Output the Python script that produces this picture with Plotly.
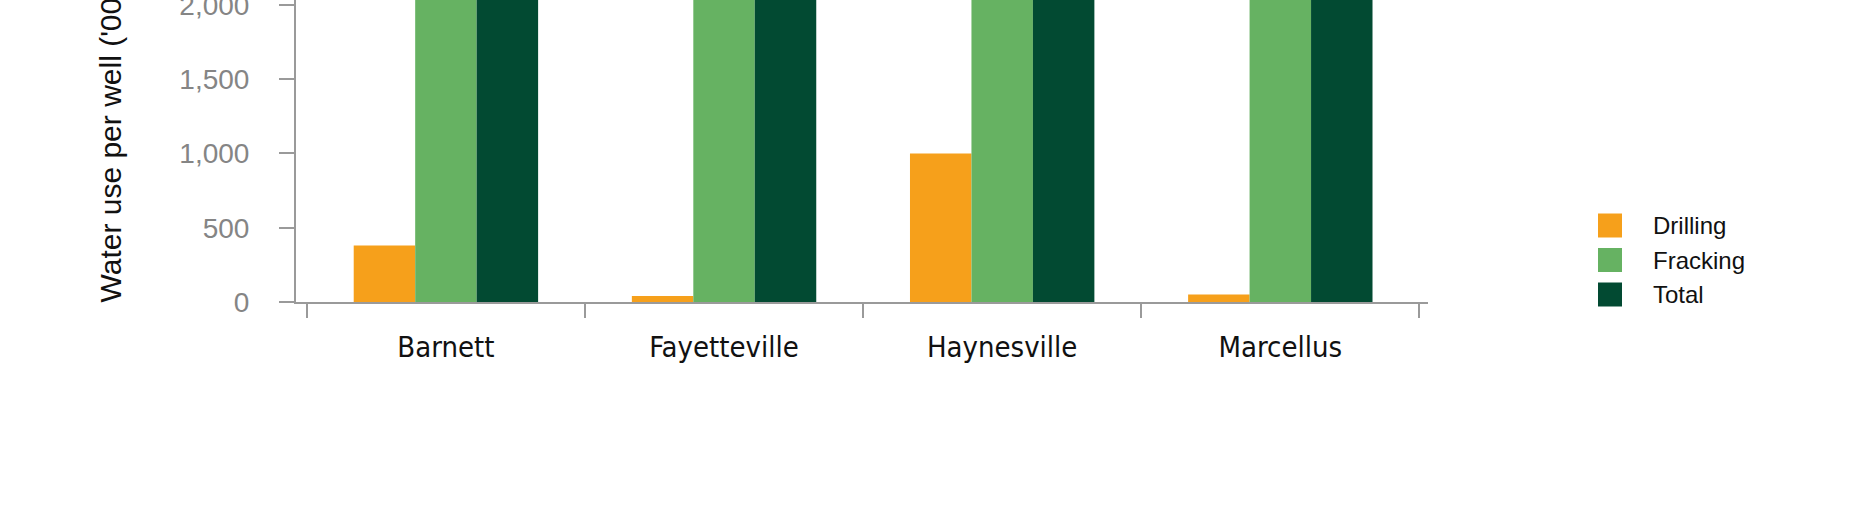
import plotly.graph_objects as go

# ---- data (values in '000 gallons per well) ----
plays = ["Barnett", "Fayetteville", "Haynesville", "Marcellus"]
drilling = [380, 40, 1000, 50]
fracking = [2300, 2900, 2700, 3800]   # bars run beyond the visible (cropped) top
total = [2680, 2940, 3700, 3850]
series_names = ["Drilling", "Fracking", "Total"]
series_colors = ["#F6A01B", "#66B262", "#024A32"]
y_ticks = [0, 500, 1000, 1500, 2000]
y_title = "Water use per well ('000 gallons)"

W, H = 1867, 528
ML, MR, MT, MB = 296, 439, 0, 226
PW = W - ML - MR
PH = H - MT - MB

def px_x(p):
    return (p - ML) / PW

def px_y(p):
    return (H - MB - p) / PH

fig = go.Figure()
for name, vals, col in zip(series_names, [drilling, fracking, total], series_colors):
    fig.add_trace(go.Bar(x=plays, y=vals, name=name, marker=dict(color=col, line=dict(width=0)),
                         showlegend=False, hoverinfo="skip"))

fig.update_layout(
    width=W, height=H,
    margin=dict(l=ML, r=MR, t=MT, b=MB, pad=0, autoexpand=False),
    paper_bgcolor="white", plot_bgcolor="white",
    barmode="group", bargap=0.337, bargroupgap=0,
    font=dict(family="Liberation Sans, Arial, sans-serif", color="#111111"),
)
fig.update_xaxes(
    type="category", range=[-0.539, 3.531], tickson="boundaries", automargin=False,
    ticks="outside", ticklen=14, tickwidth=1.5, tickcolor="#9a9a9a",
    showline=True, linecolor="#9a9a9a", linewidth=2,
    showgrid=False, zeroline=False,
    tickfont=dict(family="Liberation Sans Narrow, Arial Narrow, DejaVu Sans Condensed, sans-serif",
                  size=29, color="#111111"),
    ticklabelstandoff=18,
)
fig.update_yaxes(
    range=[0, 2032], tickvals=y_ticks, tickformat=",d", automargin=False,
    ticklabeloverflow="allow",
    ticks="outside", ticklen=15, tickwidth=1.5, tickcolor="#9a9a9a",
    showline=True, linecolor="#9a9a9a", linewidth=2,
    showgrid=False, zeroline=False,
    tickfont=dict(family="Liberation Sans, Arial, sans-serif", size=28, color="#858585"),
    ticklabelstandoff=24,
)

# y-axis title (cropped at the top in the reference)
fig.add_annotation(text=y_title, xref="paper", yref="paper", x=px_x(110), y=0,
                   xanchor="center", yanchor="bottom", yshift=-3, textangle=-90,
                   showarrow=False, font=dict(size=30, color="#111111"))

# manual legend with large square swatches
sw_left, sw_size, row0, row_step, txt_left = 1598, 24, 225.5, 34.5, 1651
for i, (name, col) in enumerate(zip(series_names, series_colors)):
    cy = row0 + i * row_step
    fig.add_shape(type="rect", xref="paper", yref="paper",
                  x0=px_x(sw_left), x1=px_x(sw_left + sw_size),
                  y0=px_y(cy + sw_size / 2), y1=px_y(cy - sw_size / 2),
                  fillcolor=col, line=dict(width=0))
    fig.add_annotation(text=name, xref="paper", yref="paper", x=px_x(txt_left), y=px_y(cy),
                       xanchor="left", yanchor="middle", showarrow=False,
                       font=dict(size=24, color="#111111"))

fig.write_html("out.html", config={"displayModeBar": False},
               post_script="document.body.style.margin='0';document.body.style.overflow='hidden';")
